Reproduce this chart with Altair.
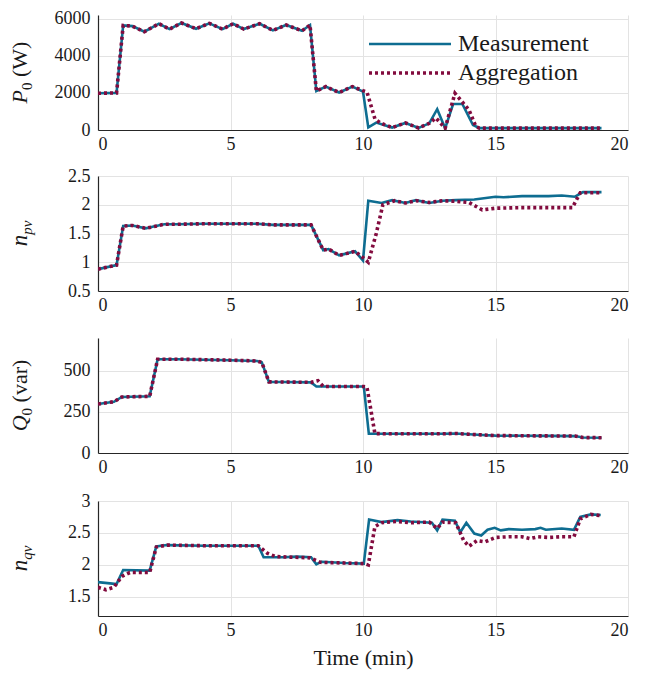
import altair as alt
import pandas as pd

# ---------------- data ----------------
# P0 (W)
t_p0_meas = [0, 0.7, 0.95, 1.3, 1.75, 2.3, 2.7, 3.15, 3.7, 4.2, 4.7, 5.1, 5.5, 6.1, 6.6, 7.1, 7.7, 8.0, 8.24,
             8.6, 9.1, 9.6, 10.0, 10.2, 10.5, 11.1, 11.6, 12.1, 12.5, 12.8, 13.1, 13.4, 13.75, 14.15, 14.4,
             15, 16, 17, 18, 19]
p0_meas = [1980, 2000, 5640, 5600, 5300, 5730, 5440, 5770, 5460, 5750, 5440, 5730, 5440, 5730, 5370, 5660, 5350,
           5660, 2100, 2340, 2020, 2340, 2070, 140, 400, 130, 380, 110, 360, 1120, 90, 1400, 1400, 270, 100,
           100, 100, 100, 100, 100]
t_p0_agg = [0, 0.7, 0.95, 1.3, 1.75, 2.3, 2.7, 3.15, 3.7, 4.2, 4.7, 5.1, 5.5, 6.1, 6.6, 7.1, 7.7, 8.0, 8.24,
            8.6, 9.1, 9.6, 10.0, 10.15, 10.45, 10.65, 11.1, 11.6, 12.1, 12.5, 12.75, 13.1, 13.47, 14.0, 14.26,
            14.4, 15, 16, 17, 18, 19]
p0_agg = [1980, 2000, 5640, 5600, 5300, 5730, 5440, 5770, 5460, 5750, 5440, 5730, 5440, 5730, 5370, 5660, 5350,
          5660, 2100, 2340, 2020, 2340, 2120, 2050, 600, 380, 130, 380, 110, 360, 650, 100, 1980, 1080, 180,
          100, 100, 100, 100, 100, 100]

# n_pv
t_npv_meas = [0, 0.7, 0.95, 1.3, 1.8, 2.1, 2.5, 3.0, 4.0, 5.0, 6.0, 6.6, 7.0, 8.04, 8.5, 8.7, 9.1, 9.36, 9.7,
              10.0, 10.2, 10.7, 11.1, 11.6, 12.0, 12.5, 13.0, 13.5, 14.2, 15.0, 15.3, 16.0, 17.0, 17.5, 18.0,
              18.3, 19.0]
npv_meas = [0.88, 0.95, 1.63, 1.64, 1.59, 1.62, 1.66, 1.66, 1.67, 1.67, 1.67, 1.65, 1.65, 1.65, 1.21, 1.23,
            1.12, 1.15, 1.19, 1.03, 2.07, 2.03, 2.08, 2.03, 2.08, 2.03, 2.07, 2.08, 2.09, 2.14, 2.13, 2.15, 2.15,
            2.16, 2.14, 2.22, 2.22]
t_npv_agg = [0, 0.7, 0.95, 1.3, 1.8, 2.1, 2.5, 3.0, 4.0, 5.0, 6.0, 6.6, 7.0, 8.04, 8.5, 8.7, 9.1, 9.36, 9.7,
             10.0, 10.2, 10.5, 10.75, 11.2, 11.6, 12.0, 12.5, 13.0, 13.5, 14.0, 14.5, 15.0, 16.0, 17.0, 17.9,
             18.2, 19.0]
npv_agg = [0.88, 0.95, 1.63, 1.64, 1.59, 1.62, 1.66, 1.66, 1.67, 1.67, 1.67, 1.65, 1.65, 1.65, 1.21, 1.23,
           1.12, 1.15, 1.19, 1.08, 1.0, 1.5, 2.0, 2.07, 2.03, 2.07, 2.04, 2.07, 2.06, 2.04, 1.91, 1.94, 1.95,
           1.95, 1.95, 2.21, 2.21]

# Q0 (var)
t_q0_meas = [0, 0.6, 0.9, 1.95, 2.25, 3.0, 4.0, 5.0, 6.0, 6.18, 6.45, 7.0, 8.04, 8.24, 9.0, 10.03, 10.22, 11, 12,
             13, 13.5, 14, 14.5, 15, 16, 17, 18, 18.3, 19]
q0_meas = [298, 312, 341, 345, 571, 571, 568, 565, 560, 552, 433, 432, 430, 405, 405, 405, 117, 117, 117, 117,
           119, 114, 110, 106, 105, 104, 103, 94, 93]
t_q0_agg = [0, 0.6, 0.9, 1.95, 2.25, 3.0, 4.0, 5.0, 6.0, 6.18, 6.45, 7.0, 8.04, 8.3, 8.5, 9.0, 10.03, 10.15,
            10.45, 11, 12, 13, 13.5, 14, 14.5, 15, 16, 17, 18, 18.3, 19]
q0_agg = [298, 312, 341, 345, 571, 571, 568, 565, 560, 552, 433, 432, 430, 440, 405, 405, 405, 400, 118, 117,
          117, 117, 119, 114, 110, 106, 105, 104, 103, 94, 93]

# n_qv
t_nqv_meas = [0, 0.45, 0.7, 0.95, 1.95, 2.2, 2.6, 4.0, 6.05, 6.25, 7.0, 7.5, 8.04, 8.24, 8.44, 9.3, 10.03, 10.23,
              10.7, 11.3, 11.8, 12.6, 12.8, 13.0, 13.47, 13.67, 13.9, 14.2, 14.46, 14.7, 14.97, 15.2, 15.5, 16.0,
              16.5, 16.7, 16.9, 17.5, 17.96, 18.2, 18.6, 18.97]
nqv_meas = [1.73, 1.71, 1.70, 1.92, 1.91, 2.29, 2.31, 2.30, 2.30, 2.12, 2.12, 2.13, 2.12, 2.01, 2.05, 2.03, 2.02,
            2.71, 2.67, 2.70, 2.68, 2.66, 2.54, 2.71, 2.69, 2.51, 2.66, 2.49, 2.46, 2.55, 2.58, 2.54, 2.56, 2.55,
            2.56, 2.58, 2.55, 2.57, 2.55, 2.75, 2.79, 2.78]
t_nqv_agg = [0, 0.3, 0.6, 0.9, 1.2, 1.95, 2.2, 2.6, 4.0, 6.05, 6.4, 6.7, 8.0, 8.4, 9.3, 10.03, 10.2, 10.45, 10.7,
             11.3, 11.8, 12.5, 12.8, 13.0, 13.5, 13.8, 14.0, 14.3, 14.6, 15.0, 15.5, 16.0, 16.3, 16.6, 17.0, 17.5,
             17.96, 18.2, 18.6, 18.97]
nqv_agg = [1.65, 1.61, 1.65, 1.82, 1.88, 1.88, 2.28, 2.31, 2.30, 2.30, 2.18, 2.13, 2.11, 2.04, 2.03, 2.02, 2.0,
           2.6, 2.66, 2.68, 2.66, 2.67, 2.57, 2.67, 2.66, 2.38, 2.29, 2.38, 2.36, 2.43, 2.44, 2.44, 2.41, 2.44,
           2.43, 2.44, 2.44, 2.72, 2.79, 2.77]

x_ticks = [0, 5, 10, 15, 20]
series_names = ["Measurement", "Aggregation"]

# ---------------- style ----------------
W, H = 530, 115
FONT = "Liberation Serif"
C_MEAS = "#0e6d91"
C_AGG = "#820b3e"
TXT = "#1a1a1a"

# approx Times widths (em) for title layout
WID_UP = {"P": .556, "W": .944, "(": .333, ")": .333, " ": .25, "v": .5, "a": .444, "r": .333,
          "Q": .722, "0": .5}
WID_IT = {"P": .611, "n": .5, "p": .5, "v": .444, "q": .5, "Q": .722}


def text_width(s, italic, size):
    table = WID_IT if italic else WID_UP
    return sum(table.get(c, .5) for c in s) * size


def y_title(pieces, x_base, cy):
    """pieces: (text, italic, size, baseline shift); a piece of only spaces just adds a gap."""
    total = sum(text_width(s, it, sz) for s, it, sz, sh in pieces)
    y = cy + total / 2
    layers = []
    for s, it, sz, sh in pieces:
        if s.strip():
            layers.append(
                alt.Chart(pd.DataFrame({"txt": [s]})).mark_text(
                    font=FONT, fontSize=sz, fontStyle="italic" if it else "normal",
                    angle=270, align="left", baseline="alphabetic", color=TXT
                ).encode(x=alt.value(x_base + sh), y=alt.value(y), text="txt:N")
            )
        y -= text_width(s, it, sz)
    return layers


def series_layers(t_m, v_m, t_a, v_a, ydom, yticks, yfmt, xtitle=None):
    dm = pd.DataFrame({"t": t_m, "v": v_m, "s": series_names[0]})
    da = pd.DataFrame({"t": t_a, "v": v_a, "s": series_names[1]})
    if xtitle is None:
        xaxis = alt.Axis(values=x_ticks, format="d", labelFont=FONT)
    else:
        xaxis = alt.Axis(values=x_ticks, format="d", labelFont=FONT, title=xtitle)
    xenc = alt.X("t:Q", scale=alt.Scale(domain=[0, 20], nice=False), axis=xaxis,
                 title=xtitle if xtitle else None)
    yenc = alt.Y("v:Q", scale=alt.Scale(domain=ydom, nice=False, zero=False),
                 axis=alt.Axis(values=yticks, format=yfmt, labelFont=FONT), title=None)
    meas = alt.Chart(dm).mark_line(color=C_MEAS, strokeWidth=2.6, clip=True).encode(x=xenc, y=yenc)
    agg = alt.Chart(da).mark_line(color=C_AGG, strokeWidth=3.6, strokeDash=[3, 3], strokeCap="butt",
                                  clip=True).encode(x=xenc, y=yenc)
    return [meas, agg]


def spacer(yv):
    return alt.Chart(pd.DataFrame({"a": [0]})).mark_rule(opacity=0, strokeOpacity=0).encode(
        x=alt.value(0), x2=alt.value(1), y=alt.value(yv))


XB = -71.5
# panel 1
p1_layers = series_layers(t_p0_meas, p0_meas, t_p0_agg, p0_agg, [0, 6200], [0, 2000, 4000, 6000], "d")
leg = [
    alt.Chart(pd.DataFrame({"a": [0]})).mark_rule(color=C_MEAS, strokeWidth=2.6).encode(
        x=alt.value(271), x2=alt.value(353), y=alt.value(29)),
    alt.Chart(pd.DataFrame({"a": [0]})).mark_rule(color=C_AGG, strokeWidth=3.6, strokeDash=[3, 3],
                                                  strokeCap="butt").encode(
        x=alt.value(271), x2=alt.value(353), y=alt.value(58)),
    alt.Chart(pd.DataFrame({"txt": [series_names[0]]})).mark_text(
        font=FONT, fontSize=24, align="left", baseline="middle", color=TXT).encode(
        x=alt.value(360), y=alt.value(29), text="txt:N"),
    alt.Chart(pd.DataFrame({"txt": [series_names[1]]})).mark_text(
        font=FONT, fontSize=24, align="left", baseline="middle", color=TXT).encode(
        x=alt.value(360), y=alt.value(58), text="txt:N"),
]
p1 = alt.layer(*p1_layers, *leg,
               *y_title([("P", True, 22, 0), ("0", False, 15, 5), (" ", False, 22, 0), ("(W)", False, 22, 0)],
                        XB, H / 2),
               spacer(-7)).properties(width=W, height=H)

p2_layers = series_layers(t_npv_meas, npv_meas, t_npv_agg, npv_agg, [0.5, 2.5], [0.5, 1, 1.5, 2, 2.5], ".1~f")
p2 = alt.layer(*p2_layers, *y_title([("n", True, 23, 0), ("pv", True, 15, 5)], XB, H / 2),
               spacer(-9)).properties(width=W, height=H)

p3_layers = series_layers(t_q0_meas, q0_meas, t_q0_agg, q0_agg, [0, 700], [0, 250, 500], "d")
p3 = alt.layer(*p3_layers,
               *y_title([("Q", True, 22, 0), ("0", False, 15, 5), (" ", False, 22, 0), ("(var)", False, 22, 0)],
                        XB, H / 2),
               spacer(-10)).properties(width=W, height=H)

p4_layers = series_layers(t_nqv_meas, nqv_meas, t_nqv_agg, nqv_agg, [1.2, 3], [1.5, 2, 2.5, 3], ".1~f",
                          xtitle="Time (min)")
p4 = alt.layer(*p4_layers, *y_title([("n", True, 23, 0), ("qv", True, 15, 5)], XB, H / 2),
               spacer(-11)).properties(width=W, height=H)

chart = alt.vconcat(p1, p2, p3, p4, spacing=14).properties(
    padding={"left": 0, "top": 0, "right": 5, "bottom": 5}
).configure(font=FONT).configure_view(stroke=None).configure_axis(
    labelFont=FONT, labelFontSize=18, labelColor=TXT,
    titleFont=FONT, titleFontSize=22, titleColor=TXT, titleFontWeight="normal",
    domainColor="#262626", domainWidth=1.2, ticks=False,
    gridColor="#e3e3e3", gridWidth=1,
).configure_axisX(labelPadding=5, titlePadding=8).configure_axisY(labelPadding=8)

chart.save("out.html", embed_options={"renderer": "svg", "actions": False})
